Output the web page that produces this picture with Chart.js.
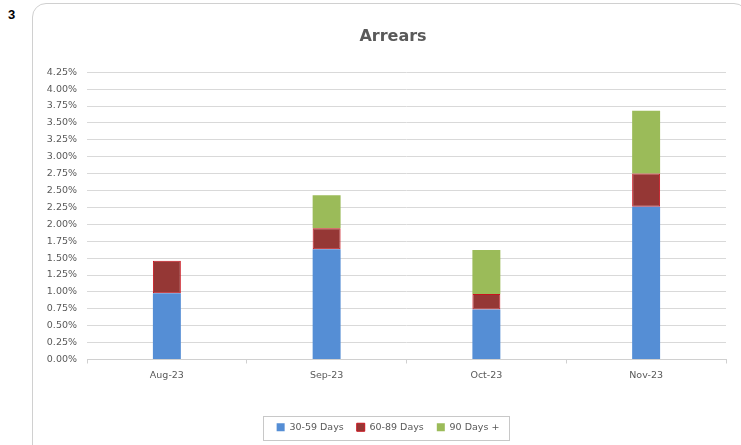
<!DOCTYPE html>
<html>
<head>
<meta charset="utf-8">
<script src="https://cdn.jsdelivr.net/npm/chart.js@4"></script>
<style>
  html, body { margin:0; padding:0; background:#fff; width:741px; height:445px; overflow:hidden; }
  #num { position:absolute; left:8px; top:7px; font:bold 13px "Liberation Sans", Arial, sans-serif; color:#000; }
  #frame { position:absolute; left:32px; top:3px; width:716px; height:520px; border:1px solid #d0d0d0; border-radius:14px; box-sizing:border-box; }
  #wrap { position:absolute; left:0; top:0; width:741px; height:445px; }
</style>
</head>
<body>
<div id="num">3</div>
<div id="frame"></div>
<div id="wrap"><canvas id="c" width="741" height="445"></canvas></div>
<script>
const categories = ["Aug-23", "Sep-23", "Oct-23", "Nov-23"];
const days30to59 = [0.98, 1.63, 0.74, 2.26];
const days60to89 = [0.48, 0.31, 0.23, 0.49];
const days90plus = [0.00, 0.49, 0.65, 0.93];
const seriesNames = ["30-59 Days", "60-89 Days", "90 Days +"];

const FONT = '"DejaVu Sans", Verdana, sans-serif';

const shiftBlocks = {
  id: 'shiftBlocks',
  afterLayout(chart) {
    if (chart.titleBlock) { chart.titleBlock.left = 60; }
    if (chart.legend) { chart.legend.left = 50; }
  }
};

const legendBox = {
  id: 'legendBox',
  afterDraw(chart) {
    const lg = chart.legend;
    if (!lg || !lg.legendHitBoxes || !lg.legendHitBoxes.length) return;
    const hb = lg.legendHitBoxes;
    let l = Infinity, r = -Infinity, t = Infinity, b = -Infinity;
    hb.forEach(h => { l = Math.min(l, h.left); r = Math.max(r, h.left + h.width); t = Math.min(t, h.top); b = Math.max(b, h.top + h.height); });
    const ctx = chart.ctx;
    ctx.save();
    ctx.strokeStyle = '#c8c8c8';
    ctx.lineWidth = 1;
    ctx.strokeRect(Math.round(l - 14) + 0.5, Math.round(t - 7) + 0.5, Math.round(r - l + 23), Math.round(b - t + 14));
    ctx.restore();
  }
};

new Chart(document.getElementById('c'), {
  type: 'bar',
  data: {
    labels: categories,
    datasets: [
      { label: seriesNames[0], data: days30to59, backgroundColor: '#558ed5', borderWidth: 0 },
      { label: seriesNames[1], data: days60to89, backgroundColor: '#953735', borderColor: '#c8141e', borderWidth: 1, borderSkipped: false },
      { label: seriesNames[2], data: days90plus, backgroundColor: '#9bbb59', borderWidth: 0 }
    ]
  },
  options: {
    responsive: false,
    animation: false,
    layout: { padding: { left: 38, right: 15, top: 0, bottom: 3 } },
    datasets: { bar: { barPercentage: 0.175, categoryPercentage: 1.0 } },
    plugins: {
      title: {
        display: true, text: 'Arrears', color: '#595959',
        font: { family: FONT, size: 16, weight: 'bold' },
        padding: { top: 27, bottom: 26 }
      },
      legend: {
        position: 'bottom',
        labels: {
          boxWidth: 8, boxHeight: 8, padding: 13, color: '#595959',
          font: { family: FONT, size: 9.5 }
        }
      },
      tooltip: { enabled: false }
    },
    scales: {
      x: {
        stacked: true,
        grid: { display: true, drawOnChartArea: false, drawTicks: true, tickLength: 4, color: '#d0d0d0', offset: true },
        border: { display: true, color: '#d0d0d0' },
        ticks: { color: '#595959', font: { family: FONT, size: 9.5 }, padding: 6 },
        afterFit(s) { s.height = 50; }
      },
      y: {
        stacked: true,
        min: 0, max: 4.25,
        grid: { color: '#d9d9d9', drawTicks: false },
        border: { display: false },
        ticks: {
          stepSize: 0.25, color: '#595959', padding: 10,
          font: { family: FONT, size: 9.5 },
          callback: v => v.toFixed(2) + '%'
        },
        afterFit(s) { s.width = 49; }
      }
    }
  },
  plugins: [shiftBlocks, legendBox]
});
</script>
</body>
</html>
